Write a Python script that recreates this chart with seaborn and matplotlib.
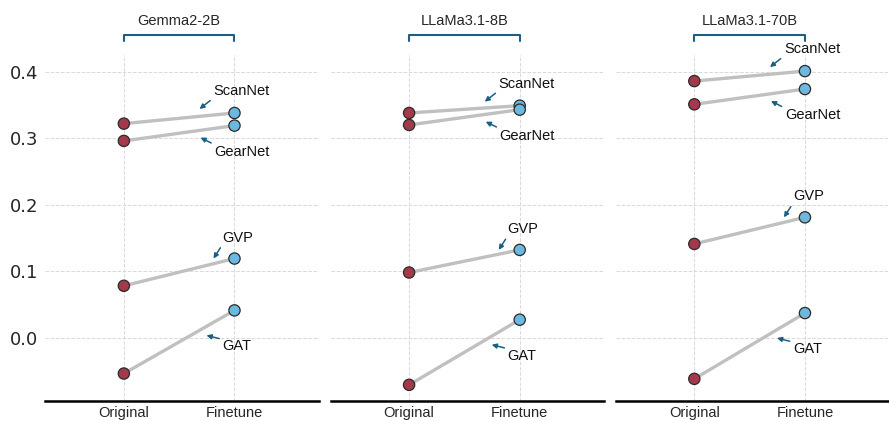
import numpy as np
import pandas as pd
import matplotlib
matplotlib.use("Agg")
import matplotlib.pyplot as plt
import matplotlib.transforms as mtransforms
import seaborn as sns

# data
models = ["Gemma2-2B", "LLaMa3.1-8B", "LLaMa3.1-70B"]
methods = ["ScanNet", "GearNet", "GVP", "GAT"]
stages = ["Original", "Finetune"]

gemma_original = [0.322, 0.296, 0.078, -0.054]
gemma_finetune = [0.338, 0.319, 0.119, 0.041]
llama8_original = [0.338, 0.320, 0.098, -0.071]
llama8_finetune = [0.349, 0.343, 0.132, 0.027]
llama70_original = [0.386, 0.351, 0.141, -0.062]
llama70_finetune = [0.401, 0.374, 0.181, 0.037]

y_ticks = [0.0, 0.1, 0.2, 0.3, 0.4]

originals = [gemma_original, llama8_original, llama70_original]
finetunes = [gemma_finetune, llama8_finetune, llama70_finetune]

rows = []
for model, orig, fine in zip(models, originals, finetunes):
    for m, o, f in zip(methods, orig, fine):
        rows.append({"model": model, "method": m, "stage": "Original", "x": 0, "value": o})
        rows.append({"model": model, "method": m, "stage": "Finetune", "x": 1, "value": f})
df = pd.DataFrame(rows)

# label placement in pixels (y down): arrow tip relative to finetune point,
# text corner relative to tip, and which corner of the text the arrow leaves from
label_pos = {
    "ScanNet": ((-35, 4), (14, -11), "bottom"),
    "GearNet": ((-34, -12), (14, 7), "top"),
    "GVP": ((-21, 0), (9, -14), "bottom"),
    "GAT": ((-28, -25), (16, 4), "top"),
}

sns.set_style("white")
plt.rcParams["font.family"] = ["Liberation Sans", "DejaVu Sans"]

RED = "#a3394b"
BLUE = "#6cb8de"
DARK = "#1d5f82"

fig, axes = plt.subplots(1, 3, figsize=(8.89, 4.21), dpi=100, sharey=True)
fig.subplots_adjust(left=0.051, right=1.0, bottom=0.048, top=0.869, wspace=0.044)
px = 0.72  # points per pixel

for ax, model in zip(axes, models):
    sub = df[df["model"] == model]
    for g in y_ticks:
        ax.axhline(g, color="#d9d9d9", lw=0.7, ls="--", zorder=0)
    for xv in [0, 1]:
        ax.axvline(xv, color="#d9d9d9", lw=0.7, ls="--", zorder=0)

    sns.lineplot(data=sub, x="x", y="value", units="method", estimator=None,
                 color="#c0c0c0", lw=2.4, ax=ax, zorder=2, legend=False)
    sns.scatterplot(data=sub, x="x", y="value", hue="stage",
                    palette={"Original": RED, "Finetune": BLUE},
                    s=66, edgecolor="#2b2b2b", linewidth=0.9, ax=ax,
                    zorder=3, legend=False)

    for m in methods:
        f = sub[(sub["method"] == m) & (sub["x"] == 1)]["value"].iloc[0]
        (tipx, tipy), (tx, ty), corner = label_pos[m]
        tip_tr = mtransforms.offset_copy(ax.transData, fig=fig, x=tipx * px,
                                         y=tipy * px, units="points")
        ax.annotate(m, xy=(1, f), xycoords=tip_tr,
                    xytext=(tx * px, -ty * px), textcoords="offset points",
                    ha="left", va=corner, fontsize=10.5, color="#111111",
                    arrowprops=dict(arrowstyle="-|>", color=DARK, lw=1.1,
                                    mutation_scale=7, shrinkA=0, shrinkB=0,
                                    relpos=(0, 0) if corner == "bottom" else (0, 1)))

    # bracket + title above the panel
    tr = mtransforms.blended_transform_factory(ax.transData, ax.transAxes)
    ax.plot([0, 0, 1, 1], [1.040, 1.058, 1.058, 1.040], color=DARK, lw=1.5,
            transform=tr, clip_on=False)
    ax.text(0.5, 1.10, model, transform=tr, ha="center", va="center", fontsize=10.5)

    ax.set_xlim(-0.71, 1.76)
    ax.set_ylim(-0.095, 0.425)
    ax.set_xticks([0, 1])
    ax.set_xticklabels(stages, fontsize=10.5)
    ax.set_yticks(y_ticks)
    ax.set_xlabel("")
    ax.set_ylabel("")
    for side in ["left", "right", "top"]:
        ax.spines[side].set_visible(False)
    ax.spines["bottom"].set_linewidth(1.8)
    ax.spines["bottom"].set_color("black")
    ax.tick_params(axis="both", length=0)
    ax.tick_params(axis="x", pad=4)
    ax.tick_params(axis="y", labelsize=13, pad=5)

for lab in axes[0].get_yticklabels():
    lab.set_fontfamily("DejaVu Sans")

fig.savefig("out.png", dpi=100)
